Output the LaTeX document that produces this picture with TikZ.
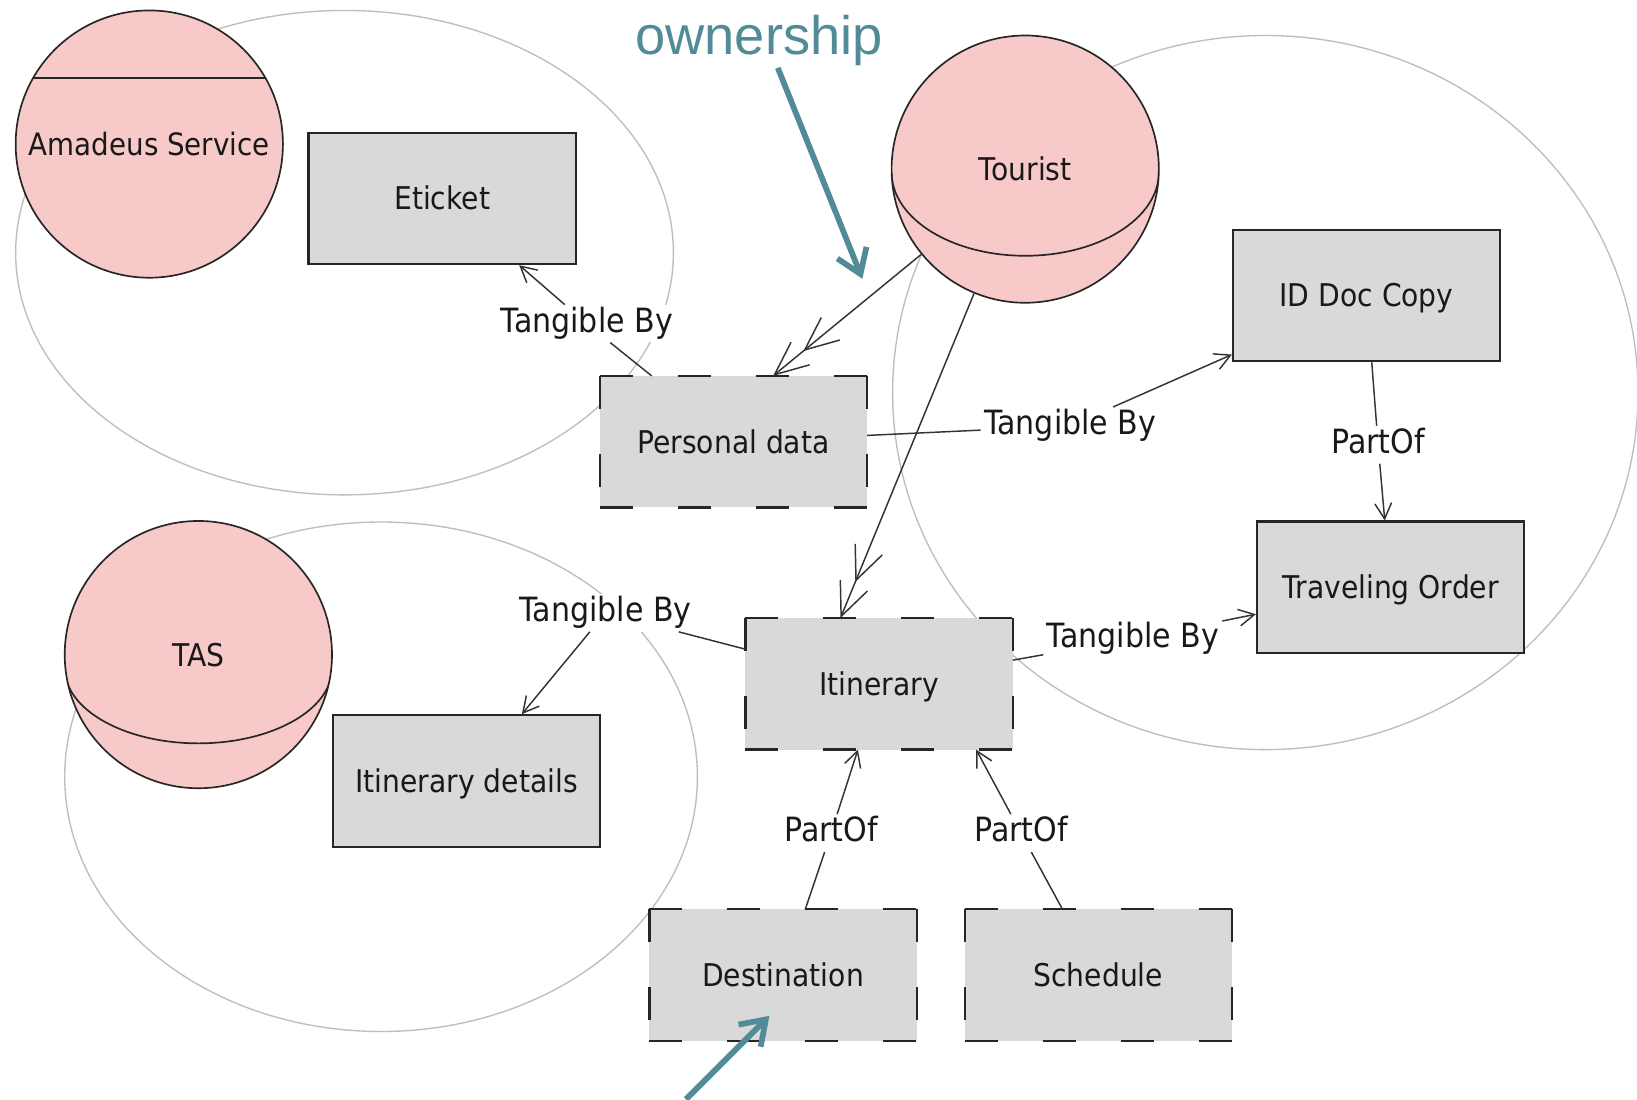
\documentclass[tikz,border=0pt]{standalone}
\usepackage{fontspec}
\setmainfont{DejaVu Sans}[FakeStretch=0.9]
\newfontfamily\notefont{Liberation Sans}
\usetikzlibrary{arrows.meta}

\definecolor{spherepink}{RGB}{247,201,201}
\definecolor{boxgray}{RGB}{217,217,217}
\definecolor{ringgray}{RGB}{190,190,190}
\definecolor{noteteal}{RGB}{82,139,152}

\tikzset{
  ring/.style={draw=ringgray, line width=1.3pt},
  nodetext/.style={font=\fontsize{30}{36}\selectfont, text=black!90, text height=22pt, text depth=0pt},
  sphere/.style={circle, draw=black!85, line width=1.6pt, fill=spherepink,
                 minimum size=256pt, inner sep=0pt, nodetext},
  solidbox/.style={rectangle, draw=black!85, line width=2pt, fill=boxgray,
                   minimum width=256pt, minimum height=126pt, inner sep=0pt, nodetext},
  dashbox/.style={rectangle, fill=boxgray, minimum width=256pt, minimum height=126pt,
                  inner sep=0pt, outer sep=0pt, nodetext},
  dashside/.style={draw=black!85, line width=2.2pt, dash pattern=on 31.6pt off 43.1pt},
  edgelabel/.style={fill=white, inner sep=3pt, font=\fontsize{32}{38}\selectfont,
                    text=black!90, text height=23pt, text depth=7pt},
  link/.style={draw=black!80, line width=1.4pt, -{Straight Barb[length=15pt,width=16pt]}},
  ownlink/.style={draw=black!80, line width=1.4pt,
                  -{Straight Barb[length=32pt,width=28pt,sep=3pt]Straight Barb[length=32pt,width=28pt]}},
  note/.style={draw=noteteal, line width=5.5pt, -{Straight Barb[length=22pt,width=30pt]}},
}

\begin{document}
\begin{tikzpicture}[x=1pt,y=-1pt]
  \fill[white] (0,0) rectangle (1568,1053);
  \useasboundingbox (0,0) rectangle (1568,1053);

  % grouping rings
  \draw[ring] (330,242) ellipse [x radius=315pt, y radius=232pt];
  \draw[ring] (1212,376) ellipse [x radius=357pt, y radius=342pt];
  \draw[ring] (365,744) ellipse [x radius=303pt, y radius=244pt];

  % relation labels
  \node[edgelabel] (lblA) at (562,310) {Tangible By};
  \node[edgelabel] (lblB) at (1025,408) {Tangible By};
  \node[edgelabel] (lblC) at (1320,426) {PartOf};
  \node[edgelabel] (lblD) at (580,587) {Tangible By};
  \node[edgelabel] (lblE) at (1085,612) {Tangible By};
  \node[edgelabel] (lblF) at (796,798) {PartOf};
  \node[edgelabel] (lblG) at (978,798) {PartOf};

  % agents
  \node[sphere, font=\fontsize{29.5}{34}\selectfont] (amadeus) at (143,138) {Amadeus Service};
  \node[sphere] (tourist) at (982,162) {Tourist};
  \node[sphere] (tas) at (190,627) {TAS};

  \draw[black!85, line width=1.8pt]
    ([shift={(-111.4pt,63pt)}]amadeus.center) -- ([shift={(111.4pt,63pt)}]amadeus.center);
  \begin{scope}
    \clip (tourist.center) circle [radius=128pt];
    \draw[black!85, line width=1.6pt]
      ([shift={(-128pt,-3pt)}]tourist.center) arc [start angle=180, end angle=360, x radius=128pt, y radius=80pt];
  \end{scope}
  \begin{scope}
    \clip (tas.center) circle [radius=128pt];
    \draw[black!85, line width=1.6pt]
      ([shift={(-128pt,-13pt)}]tas.center) arc [start angle=180, end angle=360, x radius=128pt, y radius=72pt];
  \end{scope}

  % resources
  \node[solidbox] (eticket) at (423.5,190) {Eticket};
  \node[solidbox] (iddoc) at (1309,283) {ID Doc Copy};
  \node[solidbox] (travel) at (1332,562.5) {Traveling Order};
  \node[solidbox] (itd) at (447,748) {Itinerary details};
  \node[dashbox] (pd) at (702.5,423) {Personal data};
  \node[dashbox] (itin) at (842,655) {Itinerary};
  \node[dashbox] (dest) at (750,934) {Destination};
  \node[dashbox] (sched) at (1052,934) {Schedule};

  \foreach \n in {pd,itin,dest,sched}
    \draw[dashside] (\n.north west) -- (\n.north east)
                    (\n.south west) -- (\n.south east)
                    (\n.north west) -- (\n.south west)
                    (\n.north east) -- (\n.south east);

  % relations
  \draw[link] (pd) -- (lblA) -- (eticket);
  \draw[link] (pd) -- (lblB) -- (iddoc);
  \draw[link] (iddoc) -- (lblC) -- (travel);
  \draw[link] (itin) -- (lblD) -- (itd);
  \draw[link] (itin) -- (lblE) -- (travel);
  \draw[link] (dest) -- (lblF) -- (itin);
  \draw[link] (sched) -- (lblG) -- ([xshift=93pt]itin.south);

  % ownership
  \draw[ownlink] (tourist) -- ([xshift=38pt]pd.north);
  \draw[ownlink] (tourist) -- ([xshift=-37pt]itin.north);

  % annotations
  \node[anchor=base, inner sep=0pt, font=\notefont\fontsize{52}{60}\selectfont, text=noteteal]
    (owntext) at (727,52) {ownership};
  \coordinate (ownaim) at (826,267);
  \coordinate (destfoot) at (657,1053);
  \draw[note] ([xshift=18pt,yshift=-2pt]owntext.south) -- (ownaim);
  \draw[note] (destfoot) -- ([shift={(-13pt,-39pt)}]dest.center);
\end{tikzpicture}
\end{document}
